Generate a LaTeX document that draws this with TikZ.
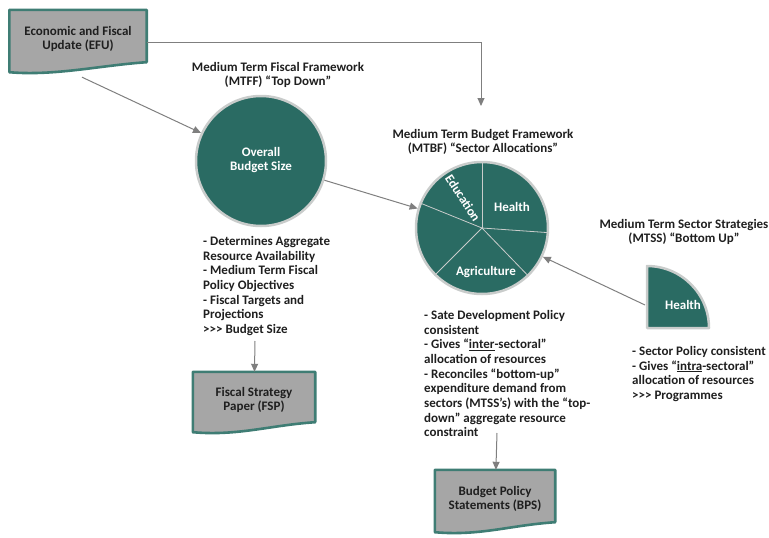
\documentclass[tikz,border=0pt]{standalone}
\usepackage{fontspec}
\setmainfont{Carlito}
\usetikzlibrary{arrows.meta,positioning,backgrounds}

\definecolor{tealfill}{HTML}{2A6B63}
\definecolor{tealedge}{HTML}{3F7D74}
\definecolor{docgray}{HTML}{A6A6A6}
\definecolor{ringgray}{HTML}{C9CCCB}
\definecolor{arrgray}{HTML}{7F7F7F}
\definecolor{txt}{HTML}{1F1F1F}

\tikzset{
  lbl/.style={font=\bfseries\fontsize{13}{14.7}\selectfont, text=txt, align=center, inner sep=0pt},
  notes/.style={lbl, align=left, anchor=north west},
  wlbl/.style={font=\bfseries\fontsize{13}{14.7}\selectfont, text=white, align=center, inner sep=0pt},
  docnode/.style={lbl, minimum width=#1},
  docbox/.style={fill=docgray, draw=tealedge, line width=2.6pt, line join=round},
  disc/.style={circle, fill=tealfill, draw=ringgray, line width=2.5pt, inner sep=0pt},
  sector/.style={fill=tealfill, draw=ringgray, line width=2.5pt, line join=round},
  pieline/.style={draw=ringgray, line width=0.8pt},
  arr/.style={draw=arrgray, line width=1pt, -{Triangle[length=8pt,width=7pt]}}
}

% document shape behind a named node
\newcommand{\docshape}[1]{%
  \filldraw[docbox] (#1.north west) -- (#1.north east) -- ([yshift=6pt]#1.south east)
    .. controls +(-45pt,-3pt) and +(45pt,-4pt) .. ([yshift=-4pt]#1.south west) -- cycle;}

\begin{document}
\begin{tikzpicture}[x=1pt,y=-1pt]
  \useasboundingbox (0,0) rectangle (769,538);

  % boxes
  \node[docnode=137pt, minimum height=58pt] (efu) at (78,39) {Economic and Fiscal\\Update (EFU)};
  \node[docnode=122pt, minimum height=56pt] (fsp) at (254,400) {Fiscal Strategy\\Paper (FSP)};
  \node[docnode=120pt, minimum height=58pt] (bps) at (495,499) {Budget Policy\\Statements (BPS)};
  \begin{scope}[on background layer]
    \docshape{efu}
    \docshape{fsp}
    \docshape{bps}
  \end{scope}

  % top down
  \node[lbl] (mtfftitle) at (278,75) {Medium Term Fiscal Framework\\(MTFF) “Top Down”};
  \node[disc, minimum size=130pt] (budget) at (261,161) {};
  \node[wlbl] (budgettext) at (261,160) {Overall\\Budget Size};
  \node[notes] (mtffnotes) at (203,236) {- Determines Aggregate\\Resource Availability\\- Medium Term Fiscal\\Policy Objectives\\- Fiscal Targets and\\Projections\\>{}>{}> Budget Size};

  % sector allocations
  \node[lbl] (mtbftitle) at (483,142) {Medium Term Budget Framework\\(MTBF) “Sector Allocations”};
  \node[disc, minimum size=132pt] (pie) at (482,228) {};
  \foreach \a in {90,-4,-46,225,158}
    \draw[pieline] (pie.center) -- (pie.\a);
  \node[wlbl, rotate=-57] (edu) at (463,198) {Education};
  \node[wlbl] (health) at (512,207) {Health};
  \node[wlbl] (agri) at (486,272) {Agriculture};
  \node[notes] (mtbfnotes) at (424,310) {- Sate Development Policy\\consistent\\- Gives “\underline{inter}-sectoral”\\allocation of resources\\- Reconciles “bottom-up”\\expenditure demand from\\sectors (MTSS’s) with the “top-\\down” aggregate resource\\constraint};

  % bottom up
  \node[lbl] (mtsstitle) at (684,232) {Medium Term Sector Strategies\\(MTSS) “Bottom Up”};
  \coordinate (mtss) at (647,328);
  \filldraw[sector] (mtss) -- ++(0pt,62pt) arc[start angle=90,end angle=0,radius=62pt] -- cycle;
  \node[wlbl] (mtsshealth) at (683,305) {Health};
  \node[notes] (mtssnotes) at (632,346) {- Sector Policy consistent\\- Gives “\underline{intra}-sectoral”\\allocation of resources\\>{}>{}> Programmes};

  % connectors
  \coordinate (mtbfin) at (481,106);
  \coordinate (mtssin) at (645,305);
  \coordinate (mtffend) at (255,341);
  \coordinate (mtbfend) at (497,433);
  \draw[arr] ([yshift=-3pt]efu.east) -| (mtbfin);
  \draw[arr] ([xshift=4pt,yshift=-9pt]efu.south) -- (budget);
  \draw[arr] (budget) -- (pie);
  \draw[arr] (mtssin) -- (pie);
  \draw[arr] (mtffend) -- (fsp);
  \draw[arr] (mtbfend) -- (bps);
\end{tikzpicture}
\end{document}
